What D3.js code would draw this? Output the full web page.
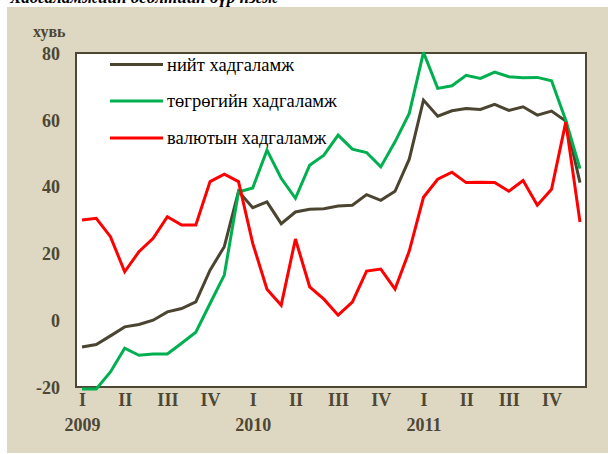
<!DOCTYPE html>
<html>
<head>
<meta charset="utf-8">
<script src="https://cdn.jsdelivr.net/npm/d3@7/dist/d3.min.js"></script>
<style>
  html, body { margin: 0; padding: 0; background: #ffffff; }
  svg { display: block; }
</style>
</head>
<body>
<svg id="chart" width="608" height="454"></svg>
<script>
// ---- data ----
const months = d3.range(36); // Jan 2009 .. Dec 2011
const quarterLabels = ["I", "II", "III", "IV"];
const years = ["2009", "2010", "2011"];
const yTicks = [-20, 0, 20, 40, 60, 80];

const seriesNames = ["нийт хадгаламж", "төгрөгийн хадгаламж", "валютын хадгаламж"];
const total = [-8, -7.3, -4.7, -2, -1.3, 0, 2.5, 3.5, 5.5, 15, 22, 38.6,
               33.7, 35.4, 28.9, 32.4, 33.2, 33.4, 34.2, 34.4, 37.6, 35.9, 38.6, 48.2,
               65.9, 61.1, 62.7, 63.4, 63.1, 64.6, 62.8, 63.9, 61.4, 62.6, 59.6, 41.2];
const tugrug = [-20.6, -20.6, -15.5, -8.4, -10.5, -10.1, -10.1, -6.9, -3.6, 5, 13.5, 38.4,
                39.6, 50.9, 42.5, 36.5, 46.4, 49.4, 55.4, 51.2, 50.2, 45.9, 53.4, 61.9,
                80.2, 69.4, 70.2, 73.3, 72.4, 74.3, 72.9, 72.6, 72.7, 71.7, 59.9, 45.4];
const currency = [30, 30.5, 25, 14.5, 20.5, 24.5, 31, 28.5, 28.5, 41.5, 43.7, 41.5,
                  23, 9.3, 4.5, 24.3, 10, 6.3, 1.5, 5.4, 14.7, 15.3, 9.3, 20.7,
                  36.8, 42.2, 44.3, 41.2, 41.3, 41.2, 38.6, 41.8, 34.4, 39.2, 59.3, 29.4];
const seriesValues = [total, tugrug, currency];
const colors = ["#4a4430", "#00b050", "#ff0000"];

// ---- layout ----
const svg = d3.select("#chart");
const axisColor = "#4d4733";
const plot = { left: 76, top: 53, right: 586, bottom: 387 };

svg.append("rect").attr("x", 7).attr("y", 7).attr("width", 601).attr("height", 446)
  .attr("fill", "#ded8c3");

svg.append("text").attr("x", 10).attr("y", 3)
  .attr("font-family", "Liberation Serif").attr("font-style", "italic").attr("font-weight", "bold")
  .attr("font-size", 17).attr("fill", "#000")
  .text("Хадгаламжийн өсөлтийн бүр нэгж");

const x = d3.scaleLinear().domain([0, 35]).range([82, 580]);
const y = d3.scaleLinear().domain([-20, 80]).range([plot.bottom, plot.top]);

svg.append("rect").attr("x", plot.left).attr("y", plot.top)
  .attr("width", plot.right - plot.left).attr("height", plot.bottom - plot.top)
  .attr("fill", "#ffffff").attr("stroke", axisColor).attr("stroke-width", 2);

// y axis
const yAxis = svg.append("g").attr("transform", `translate(${plot.left},0)`)
  .call(d3.axisLeft(y).tickValues(yTicks).tickSize(0).tickPadding(16).tickFormat(d => String(d)));
yAxis.select(".domain").remove();
yAxis.selectAll("text").attr("font-family", "Liberation Serif").attr("font-weight", "bold")
  .attr("font-size", 18).attr("fill", axisColor).attr("dy", "0.35em");

svg.append("text").attr("x", 33).attr("y", 37)
  .attr("font-family", "Liberation Serif").attr("font-weight", "bold")
  .attr("font-size", 16).attr("fill", axisColor).text("хувь");

// x axis (quarters)
const qTicks = months.filter(m => m % 3 === 0);
const xAxis = svg.append("g").attr("transform", `translate(0,${plot.bottom})`)
  .call(d3.axisBottom(x).tickValues(qTicks).tickSize(0).tickPadding(6)
    .tickFormat(m => quarterLabels[(m / 3) % 4]));
xAxis.select(".domain").remove();
xAxis.selectAll("text").attr("font-family", "Liberation Serif").attr("font-weight", "bold")
  .attr("font-size", 18).attr("fill", axisColor);

// years
const yTickMonths = years.map((d, i) => i * 12);
const yearAxis = svg.append("g").attr("transform", `translate(0,${plot.bottom + 25})`)
  .call(d3.axisBottom(x).tickValues(yTickMonths).tickSize(0).tickPadding(6)
    .tickFormat(m => years[m / 12]));
yearAxis.select(".domain").remove();
yearAxis.selectAll("text").attr("font-family", "Liberation Serif").attr("font-weight", "bold")
  .attr("font-size", 18).attr("fill", axisColor);

// lines
const line = d3.line().x((d, i) => x(months[i])).y(d => y(d));
seriesValues.forEach((vals, k) => {
  svg.append("path").datum(vals).attr("d", line)
    .attr("fill", "none").attr("stroke", colors[k]).attr("stroke-width", 3)
    .attr("stroke-linejoin", "miter").attr("stroke-miterlimit", 3);
});

// legend
const legendY = [64.5, 101, 138];
seriesNames.forEach((name, k) => {
  svg.append("line").attr("x1", 110).attr("x2", 163).attr("y1", legendY[k]).attr("y2", legendY[k])
    .attr("stroke", colors[k]).attr("stroke-width", 3);
  svg.append("text").attr("x", 167).attr("y", legendY[k]).attr("dy", "0.33em")
    .attr("font-family", "Liberation Serif").attr("font-size", 18.5).attr("fill", "#000")
    .text(name);
});
</script>
</body>
</html>
